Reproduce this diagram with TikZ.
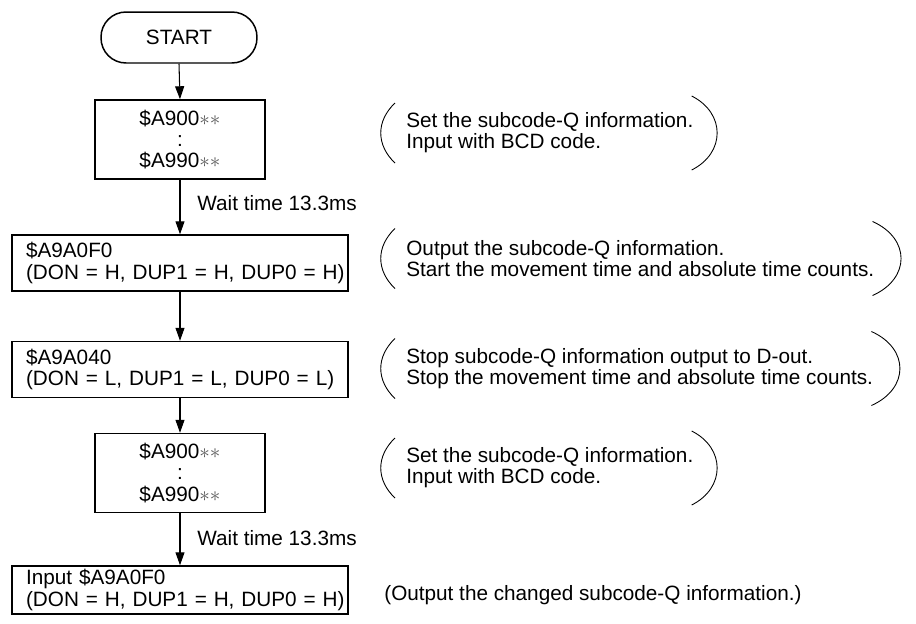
\documentclass[tikz,border=0pt]{standalone}
\usepackage{fontspec}
\setmainfont{Liberation Sans}
\usetikzlibrary{arrows.meta,calc}
\newcommand{\qstars}{\textcolor{black!65}{${\ast}{\ast}$}}

\begin{document}
\begin{tikzpicture}[
    x=0.02cm,
    y=0.02cm,
    font=\fontsize{11.8pt}{12pt}\selectfont,
    >={Triangle[length=2.6mm, width=1.8mm]},
    terminal/.style={draw, line width=0.85pt, rounded corners=0.5cm, minimum width=3.12cm, minimum height=1.02cm, inner sep=0pt},
    setbox/.style={draw, line width=0.85pt, minimum width=3.4cm, minimum height=1.58cm, align=center, inner sep=0pt},
    cmdbox/.style={draw, line width=0.85pt, text width=6.16cm, inner xsep=0.28cm, inner ysep=0pt, minimum height=1.12cm, align=left},
    note/.style={anchor=west, inner sep=0pt, align=left},
    waitlabel/.style={anchor=west, inner sep=0pt},
    arrow/.style={->, line width=0.6pt},
    paren/.style={line width=0.5pt}
  ]
  \useasboundingbox (0,0) rectangle (916,-623);

  \node[terminal] (start) at (179,-37.5) {START};
  \node[setbox] (set1) at (180,-139.5) {\$A900\qstars\\:\\\$A990\qstars};
  \node[cmdbox] (out1) at (180,-263) {
    \$A9A0F0\\
    \mbox{(DON = H, DUP1 = H, DUP0 = H)}
  };
  \node[cmdbox] (stop1) at (180,-369.5) {
    \$A9A040\\
    \mbox{(DON = L, DUP1 = L, DUP0 = L)}
  };
  \node[setbox] (set2) at (180,-473) {\$A900\qstars\\:\\\$A990\qstars};
  \node[cmdbox, minimum height=0.96cm] (in1) at (180,-590) {
    Input \$A9A0F0\\
    \mbox{(DON = H, DUP1 = H, DUP0 = H)}
  };

  \node[waitlabel] (wait1) at (197,-203) {Wait time 13.3ms};
  \node[waitlabel] (wait2) at (197,-538) {Wait time 13.3ms};

  \node[note] (note1) at (406,-133) {
    Set the subcode-Q information.\\
    Input with BCD code.
  };
  \node[note] (note2) at (406,-258.5) {
    Output the subcode-Q information.\\
    Start the movement time and absolute time counts.
  };
  \node[note] (note3) at (406,-368.5) {
    Stop subcode-Q information output to D-out.\\
    Stop the movement time and absolute time counts.
  };
  \node[note] (note4) at (406,-468) {
    Set the subcode-Q information.\\
    Input with BCD code.
  };
  \node[note] (note5) at (384,-595) {(Output the changed subcode-Q information.)};

  \draw[arrow] (start.south) -- (set1.north);
  \draw[arrow] (set1.south) -- (out1.north);
  \draw[arrow] (out1.south) -- (stop1.north);
  \draw[arrow] (stop1.south) -- (set2.north);
  \draw[arrow] (set2.south) -- (in1.north);

  \draw[paren] ([shift={(-11,30)}]note1.west) .. controls +(-19,-18) and +(-19,18) .. ([shift={(-11,-30)}]note1.west);
  \draw[paren] ([shift={(-2,37)}]note1.east) .. controls +(34,-17) and +(34,17) .. ([shift={(-2,-37)}]note1.east);
  \draw[paren] ([shift={(-11,30)}]note2.west) .. controls +(-19,-18) and +(-19,18) .. ([shift={(-11,-30)}]note2.west);
  \draw[paren] ([shift={(-2,37)}]note2.east) .. controls +(38,-17) and +(38,17) .. ([shift={(-2,-37)}]note2.east);
  \draw[paren] ([shift={(-11,30)}]note3.west) .. controls +(-19,-18) and +(-19,18) .. ([shift={(-11,-30)}]note3.west);
  \draw[paren] ([shift={(-2,37)}]note3.east) .. controls +(38,-17) and +(38,17) .. ([shift={(-2,-37)}]note3.east);
  \draw[paren] ([shift={(-11,30)}]note4.west) .. controls +(-19,-18) and +(-19,18) .. ([shift={(-11,-30)}]note4.west);
  \draw[paren] ([shift={(-2,37)}]note4.east) .. controls +(34,-17) and +(34,17) .. ([shift={(-2,-37)}]note4.east);
\end{tikzpicture}
\end{document}
